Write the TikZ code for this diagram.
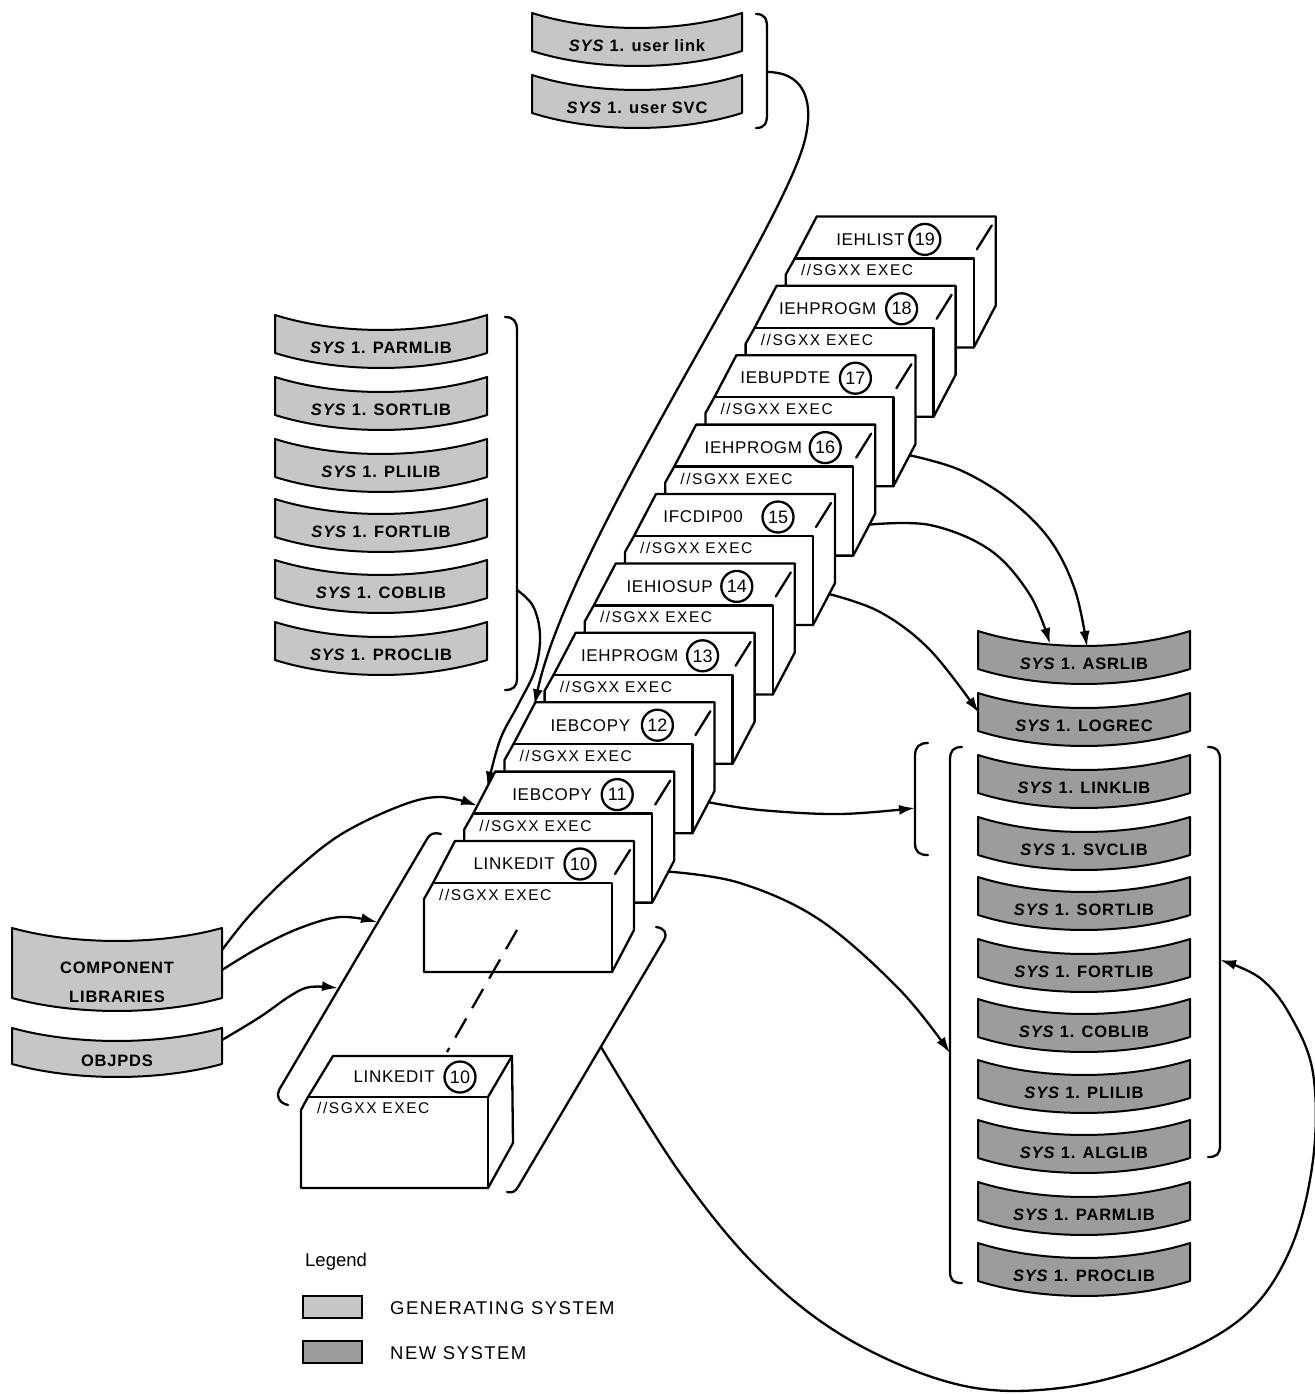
\documentclass[tikz,border=0pt]{standalone}
\usepackage{fontspec}
\setmainfont{Liberation Sans}
\newfontfamily\ftitle[LetterSpace=4]{Liberation Sans}
\newfontfamily\fexec[LetterSpace=10]{Liberation Sans}
\newfontfamily\flib[LetterSpace=5]{Liberation Sans}
\newfontfamily\fleg[LetterSpace=8]{Liberation Sans}
\usetikzlibrary{arrows.meta,calc}

\tikzset{
  ln/.style={line width=2.3pt, line join=round, line cap=round},
  conn/.style={line width=2.3pt, -{Latex[length=16pt,width=10pt]}},
  gen/.style={fill=gray!45},
  newsys/.style={fill=gray!78},
  jtitle/.style={font=\ftitle\fontsize{17}{20}\selectfont, inner sep=0pt},
  jexec/.style={font=\fexec\fontsize{15.5}{18}\selectfont, inner sep=0pt, anchor=west},
  jnum/.style={circle, draw, line width=2.3pt, minimum size=31pt, inner sep=0pt, font=\fontsize{18}{20}\selectfont},
  libtxt/.style={font=\flib\bfseries\fontsize{16.5}{29}\selectfont, inner sep=0pt, align=center},
}

% [#1 text y shift], #2 name, #3 cx, #4 y0, #5 half width, #6 height, #7 sag, #8 style, #9 text
\newcommand\libband[9][0]{%
  \filldraw[line width=2pt, line join=round, #8] (#3-#5,#4) .. controls (#3-0.4*#5,#4+1.33*#7) and (#3+0.4*#5,#4+1.33*#7) .. (#3+#5,#4)
     -- (#3+#5,#4+#6) .. controls (#3+0.4*#5,#4+#6+1.33*#7) and (#3-0.4*#5,#4+#6+1.33*#7) .. (#3-#5,#4+#6) -- cycle;
  \node[libtxt] (#2) at (#3,#4+#6/2+#7-1+#1) {#9};
}

% #1 id, #2 bx, #3 by, #4 title, #5 number, #6 circle x, #7 gap
\newcommand\jobbox[7]{%
  \begin{scope}[shift={(#2,#3)}]
    \filldraw[ln, fill=white] (0,0) -- (179,0) -- (179,89) -- (157,131) -- (-31,131) -- (-31,58) -- (-22,42) -- cycle;
    \draw[ln] (-22,42) -- (157,42) -- (157,131);
    \draw[ln] (175,9) -- (160,33);
    \node[jnum] (n#1) at (#6,23) {#5};
    \node[jtitle, anchor=east] (t#1) at (#6-#7,23) {#4};
    \node[jexec] (e#1) at (-16,54) {//SGXX EXEC};
    \coordinate (rf#1) at (173,100);
    \coordinate (la#1) at (-8,16);
    \coordinate (lb#1) at (-18,34);
    \coordinate (lc#1) at (-1,3);
  \end{scope}}

\begin{document}
\begin{tikzpicture}[x=1pt,y=-1pt]
\useasboundingbox (0,0) rectangle (1314,1394);

% ---------- user libraries ----------
\libband{ulink}{637}{13}{105}{38}{15}{gen}{\textit{SYS} 1. user link}
\libband{usvc}{637}{75}{105}{38}{15}{gen}{\textit{SYS} 1. user SVC}
\draw[ln] (756,14) .. controls (765,14) and (767,19) .. (767,28) -- (767,114) .. controls (767,123) and (765,128) .. (756,128);
\coordinate (ubr) at (767,72);
\coordinate (ubend) at (806,135);

% ---------- generating system libraries ----------
\libband{gparm}{381}{315}{106}{38}{15}{gen}{\textit{SYS} 1. PARMLIB}
\libband{gsort}{381}{377}{106}{38}{15}{gen}{\textit{SYS} 1. SORTLIB}
\libband{gpli}{381}{439}{106}{38}{15}{gen}{\textit{SYS} 1. PLILIB}
\libband{gfort}{381}{499}{106}{38}{15}{gen}{\textit{SYS} 1. FORTLIB}
\libband{gcob}{381}{560}{106}{38}{15}{gen}{\textit{SYS} 1. COBLIB}
\libband{gproc}{381}{622}{106}{38}{15}{gen}{\textit{SYS} 1. PROCLIB}
\draw[ln] (505,317) .. controls (513,317) and (517,321) .. (517,330) -- (517,678) .. controls (517,687) and (513,690) .. (505,690);
\coordinate (pbr) at (517,590);

% ---------- component libraries ----------
\libband[7]{comp}{117}{928}{105}{70}{13}{gen}{COMPONENT\\LIBRARIES}
\libband[3]{objpds}{117}{1028}{105}{36}{13}{gen}{OBJPDS}
\coordinate (cl1) at (222,950);
\coordinate (cl2) at (222,970);
\coordinate (ob1) at (222,1040);

% ---------- new system libraries ----------
\libband{nasr}{1084}{631}{106}{38}{15}{newsys}{\textit{SYS} 1. ASRLIB}
\libband{nlog}{1084}{693}{106}{38}{15}{newsys}{\textit{SYS} 1. LOGREC}
\libband{nlink}{1084}{755}{106}{38}{15}{newsys}{\textit{SYS} 1. LINKLIB}
\libband{nsvc}{1084}{817}{106}{38}{15}{newsys}{\textit{SYS} 1. SVCLIB}
\libband{nsort}{1084}{877}{106}{38}{15}{newsys}{\textit{SYS} 1. SORTLIB}
\libband{nfort}{1084}{939}{106}{38}{15}{newsys}{\textit{SYS} 1. FORTLIB}
\libband{ncob}{1084}{999}{106}{38}{15}{newsys}{\textit{SYS} 1. COBLIB}
\libband{npli}{1084}{1060}{106}{38}{15}{newsys}{\textit{SYS} 1. PLILIB}
\libband{nalg}{1084}{1120}{106}{38}{15}{newsys}{\textit{SYS} 1. ALGLIB}
\libband{nparm}{1084}{1182}{106}{38}{15}{newsys}{\textit{SYS} 1. PARMLIB}
\libband{nproc}{1084}{1243}{106}{38}{15}{newsys}{\textit{SYS} 1. PROCLIB}
\coordinate (asrA) at (1050,644);
\coordinate (asrB) at (1087,647);
\coordinate (logA) at (979,713);

% brackets on the right
\draw[ln] (928,743) .. controls (919,743) and (915,747) .. (915,756) -- (915,843) .. controls (915,852) and (919,855) .. (928,855);
\coordinate (lkbr) at (915,808);
\draw[ln] (962,747) .. controls (953,747) and (950,751) .. (950,760) -- (950,1271) .. controls (950,1280) and (953,1283) .. (962,1283);
\coordinate (bigL) at (950,1053);
\draw[ln] (1208,747) .. controls (1217,747) and (1220,751) .. (1220,760) -- (1220,1145) .. controls (1220,1154) and (1217,1157) .. (1208,1157);
\coordinate (bigR) at (1220,960);

% ---------- job step boxes ----------
\jobbox{19}{816.8}{216.4}{IEHLIST}{19}{108}{20}
\jobbox{18}{776.6}{285.8}{IEHPROGM}{18}{125}{25}
\jobbox{17}{736.4}{355.2}{IEBUPDTE}{17}{119}{25}
\jobbox{16}{696.2}{424.6}{IEHPROGM}{16}{129}{23}
\jobbox{15}{656.0}{494.0}{IFCDIP00}{15}{122}{35}
\jobbox{14}{615.8}{563.4}{IEHIOSUP}{14}{121}{24}
\jobbox{13}{575.6}{632.8}{IEHPROGM}{13}{127}{24}
\jobbox{12}{535.4}{702.2}{IEBCOPY}{12}{122}{27}
\jobbox{11}{495.2}{771.6}{IEBCOPY}{11}{122}{25}
\jobbox{10}{455.0}{841.0}{LINKEDIT}{10}{125}{25}

% slanted brackets round the LINKEDIT steps
\draw[ln] (441,834) .. controls (433,832) and (430,834) .. (427,839) -- (279,1090) .. controls (276,1096) and (279,1103) .. (288,1105);
\coordinate (lsb1) at (377,922);
\coordinate (lsb2) at (338,988);
\draw[ln] (656,927) .. controls (664,928) and (668,933) .. (664,940) -- (518,1187) .. controls (515,1192) and (512,1193) .. (507,1192);
\coordinate (rsb) at (601,1047);

% lower LINKEDIT box
\filldraw[ln, fill=white] (333,1056) -- (512,1056) -- (513,1143) -- (488,1188) -- (301,1188) -- (301,1110) -- (308,1097) -- cycle;
\draw[ln] (308,1097) -- (488,1097) -- (488,1188);
\draw[ln] (512,1056) -- (488,1097);
\node[jnum] (nL) at (460,1077) {10};
\node[jtitle, anchor=east] (tL) at (435,1077) {LINKEDIT};
\node[jexec] (eL) at (317,1108) {//SGXX EXEC};

% dashed continuation
\coordinate (dash1) at (517,930);
\coordinate (dash2) at (447,1052);
\draw[line width=2.3pt, dash pattern=on 22pt off 12pt] (dash1) -- (dash2);

% ---------- connectors ----------
\draw[conn] (ubr) .. controls (800,72) and (814,95) .. (ubend) .. controls (790,220) and (570,540) .. (lc12);
\draw[conn] plot[smooth, tension=0.6] coordinates {(pbr) (533,606) (540,635) (535,670) (518,705) (500,740) (la11)};
\draw[conn] plot[smooth, tension=0.6] coordinates {(cl1) (250,915) (290,875) (340,835) (400,806) (440,797) (lb11)};
\draw[conn] plot[smooth, tension=0.6] coordinates {(cl2) (260,947) (300,928) (340,917) (lsb1)};
\draw[conn] plot[smooth, tension=0.6] coordinates {(ob1) (260,1017) (290,996) (310,987) (lsb2)};
\draw[conn] plot[smooth, tension=0.6] coordinates {(rf17) (960,470) (1010,500) (1050,540) (1075,590) (asrB)};
\draw[conn] plot[smooth, tension=0.6] coordinates {(rf16) (930,525) (990,550) (1030,595) (asrA)};
\draw[conn] plot[smooth, tension=0.6] coordinates {(rf15) (880,612) (930,650) (logA)};
\draw[conn] plot[smooth, tension=0.6] coordinates {(rf12) (760,810) (840,814) (lkbr)};
\draw[conn] plot[smooth, tension=0.6] coordinates {(rf11) (740,883) (820,920) (900,990) (bigL)};
\draw[conn] plot[smooth, tension=0.6] coordinates {(rsb) (680,1173) (760,1270) (850,1340) (960,1385) (1060,1388) (1160,1362) (1243,1317) (1290,1250) (1313,1160) (1313,1073) (1290,1015) (1260,978) (bigR)};

% ---------- legend ----------
\node[anchor=west, inner sep=0pt, font=\fontsize{18.5}{22}\selectfont] (legend) at (305,1262) {Legend};
\node[draw, line width=1.6pt, gen, minimum width=59pt, minimum height=22pt, inner sep=0pt] (swgen) at (332.5,1307) {};
\node[draw, line width=1.6pt, newsys, minimum width=59pt, minimum height=22pt, inner sep=0pt] (swnew) at (332.5,1352) {};
\node[anchor=west, inner sep=0pt, font=\fleg\fontsize{18.5}{22}\selectfont] (lgen) at (390,1308) {GENERATING SYSTEM};
\node[anchor=west, inner sep=0pt, font=\fleg\fontsize{18.5}{22}\selectfont] (lnew) at (390,1353) {NEW SYSTEM};
\end{tikzpicture}
\end{document}
